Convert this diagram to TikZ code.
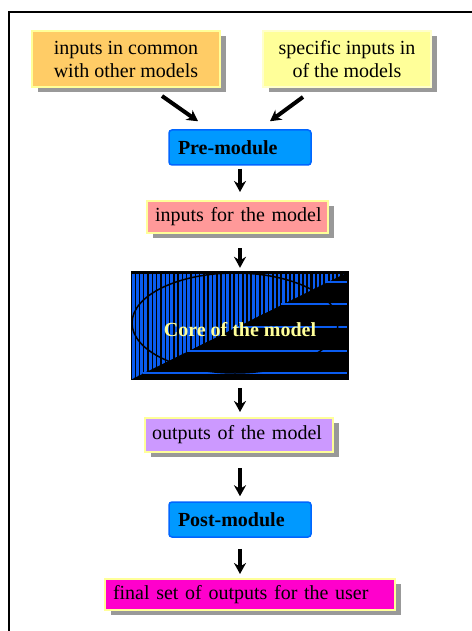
\documentclass[tikz,border=0pt]{standalone}
\usepackage{fontspec}
\setmainfont{Liberation Serif}
\usetikzlibrary{arrows.meta,shadows}

\definecolor{boxorange}{HTML}{FFCC66}
\definecolor{boxyellow}{HTML}{FFFF99}
\definecolor{paleyellow}{HTML}{FFFFCC}
\definecolor{boxpink}{HTML}{FF9999}
\definecolor{boxlilac}{HTML}{CC99FF}
\definecolor{boxmagenta}{HTML}{FF00CC}
\definecolor{moduleblue}{HTML}{0099FF}
\definecolor{moduleedge}{HTML}{0066FF}
\definecolor{stripeblue}{HTML}{0A5CF0}
\definecolor{shadowgray}{HTML}{999999}

\tikzset{
  every node/.style={font=\fontsize{20}{23}\selectfont, text=black},
  databox/.style={draw=boxyellow, line width=2pt, inner ysep=0pt,
    drop shadow={shadow xshift=6pt, shadow yshift=-5pt, fill=shadowgray, opacity=1}},
  modulebox/.style={draw=moduleedge, fill=moduleblue, line width=1.5pt,
    rounded corners=3pt, inner ysep=0pt, align=left,
    font=\fontsize{20}{23}\selectfont\bfseries},
  arr/.style={line width=4pt, -{Stealth[length=11pt,width=12pt]}},
  frameline/.style={line width=2.5pt, black}
}

\begin{document}
\begin{tikzpicture}[x=1pt,y=-1pt]
\useasboundingbox (0,0) rectangle (471,631);
\fill[white] (0,0) rectangle (471,631);

% outer frame (only left and top edges fall inside the page)
\draw[frameline] (9,640) -- (9,12) -- (480,12);

% input boxes
\node[databox, fill=boxorange, minimum width=188pt, minimum height=56pt, align=center]
  (common) at (126,59) {inputs in common\\with other models};
\node[databox, fill=boxyellow, draw=paleyellow, minimum width=168pt, minimum height=56pt, align=center]
  (specific) at (347,59) {specific inputs in\\of the models};

% pre-module
\node[modulebox, minimum height=35pt, inner xsep=9pt, text width=124pt]
  (pre) at (240,147.5) {\mbox{Pre-module}};

% inputs for the model
\node[databox, fill=boxpink, minimum height=32pt, inner xsep=8pt, text width=165pt, align=left]
  (inputs) at (237.5,217) {\mbox{inputs for the model}};

% core of the model
\node[minimum width=218pt, minimum height=109pt, inner sep=0pt]
  (core) at (240,325.5) {};
\fill[black] (core.north west) rectangle (core.south east);
\begin{scope}
  \clip (132,274) -- (344,274) -- (132,379) -- cycle;
  \foreach \i in {0,...,49} {
    \pgfmathsetmacro{\xx}{133+4.3*\i}
    \pgfmathsetmacro{\ww}{3.2-1.2*\i/49}
    \draw[stripeblue, line width=\ww pt] (\xx,272) -- (\xx,380);
  }
\end{scope}
\foreach \yy in {282,304,327,351,373} {
  \pgfmathsetmacro{\xs}{325-2*(\yy-282)}
  \draw[stripeblue, line width=2pt] (\xs,\yy) -- (347,\yy);
}
\draw[black, line width=1.5pt] (235,323) ellipse [x radius=103, y radius=50];
\node[text=boxyellow, font=\fontsize{20}{23}\selectfont\bfseries]
  (coretext) at (240,330) {Core of the model};

% outputs of the model
\node[databox, fill=boxlilac, minimum height=34pt, inner xsep=7pt, text width=174pt, align=left]
  (outputs) at (239,435) {\mbox{outputs of the model}};

% post-module
\node[modulebox, minimum height=35pt, inner xsep=9pt, text width=124pt]
  (post) at (240,519.5) {\mbox{Post-module}};

% final outputs
\node[databox, fill=boxmagenta, minimum height=31pt, inner xsep=8pt, text width=274pt, align=left]
  (final) at (250,594.5) {\mbox{final set of outputs for the user}};

% connectors
\draw[arr] ([xshift=36pt,yshift=-8pt]common.south) -- ([xshift=-42pt,yshift=8pt]pre.north);
\draw[arr] ([xshift=-44pt,yshift=-9pt]specific.south) -- ([xshift=30pt,yshift=8pt]pre.north);
\draw[arr, shorten <=3pt, shorten >=8pt] (pre.south) -- (pre.south |- inputs.north);
\draw[arr, shorten <=14pt, shorten >=3pt] (inputs.south -| core.north) -- (core.north);
\draw[arr, shorten <=8pt, shorten >=5pt] (core.south) -- (core.south |- outputs.north);
\draw[arr, shorten <=15pt, shorten >=5pt] (outputs.south -| post.north) -- (post.north);
\draw[arr, shorten <=11pt, shorten >=4pt] (post.south) -- (post.south |- final.north);
\end{tikzpicture}
\end{document}
